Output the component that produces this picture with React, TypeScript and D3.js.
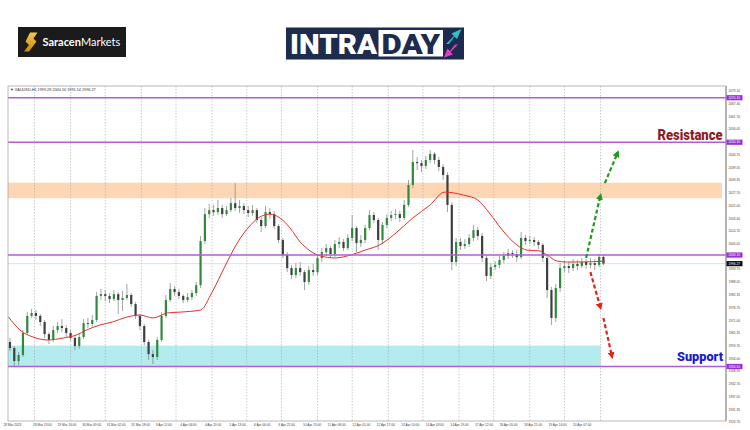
// @ts-nocheck
import React, { useEffect, useRef } from "react";
import * as d3 from "d3";

// XAUUSD H1, drawn as 3-hour candles (open = previous close)
const barsPerCandle = 3;
const firstOpen = 1961.4;

const closes = [
  1958.7, 1952.9, 1955.6, 1965.4, 1973.0, 1974.3, 1973.0, 1970.3, 1964.9, 1962.3,
  1966.7, 1968.5, 1967.6, 1965.4, 1963.2, 1959.6, 1963.6, 1969.8, 1969.4, 1971.2,
  1981.9, 1982.7, 1981.9, 1980.5, 1982.7, 1980.1, 1981.0, 1982.3, 1978.3, 1973.0,
  1968.5, 1961.4, 1956.0, 1954.7, 1962.3, 1973.0, 1980.1, 1985.0, 1983.6, 1981.9,
  1980.1, 1981.4, 1983.2, 1986.7, 2006.3, 2018.3, 2020.1, 2019.2, 2021.0, 2018.3,
  2020.1, 2023.2, 2021.0, 2021.9, 2020.1, 2018.8, 2020.1, 2015.7, 2013.0, 2019.2,
  2018.3, 2013.0, 2006.8, 2000.1, 1994.3, 1991.2, 1994.3, 1992.5, 1988.1, 1993.4,
  1992.5, 1998.8, 2001.4, 2003.2, 2000.5, 2005.0, 2005.9, 2003.2, 2007.7, 2012.1,
  2005.4, 2006.8, 2012.1, 2017.9, 2015.7, 2006.8, 2013.5, 2016.6, 2017.9, 2018.3,
  2016.6, 2022.4, 2031.3, 2041.5, 2041.0, 2039.7, 2042.4, 2045.1, 2042.4, 2039.3,
  2035.7, 2022.4, 1997.0, 2005.9, 2004.1, 2005.0, 2007.7, 2011.2, 2008.6, 1998.8,
  1990.8, 1994.8, 1995.7, 1997.9, 1999.7, 2001.0, 2000.5, 1999.2, 2007.7, 2006.3,
  2006.8, 2005.9, 2004.6, 1998.8, 1984.5, 1972.1, 1985.4, 1994.3, 1995.2, 1994.3,
  1996.1, 1995.2, 1997.0, 1995.7, 1996.5, 1995.7, 1999.28, 1996.27,
];

const highs = [
  1963.2, 1959.6, 1956.9, 1966.7, 1974.7, 1976.1, 1975.6, 1973.8, 1971.2, 1965.8,
  1968.5, 1970.3, 1971.6, 1968.9, 1966.7, 1964.0, 1964.9, 1971.6, 1972.1, 1973.4,
  1983.6, 1985.0, 1984.5, 1983.2, 1984.5, 1983.6, 1984.1, 1987.2, 1983.2, 1979.2,
  1973.8, 1969.4, 1962.3, 1957.8, 1963.6, 1974.7, 1982.3, 1987.6, 1986.3, 1985.0,
  1982.7, 1983.2, 1984.5, 1988.1, 2008.6, 2021.0, 2022.8, 2022.4, 2024.6, 2022.4,
  2021.9, 2025.5, 2032.1, 2024.6, 2023.2, 2021.9, 2022.4, 2021.0, 2017.0, 2021.9,
  2021.0, 2019.7, 2013.9, 2007.7, 2001.4, 1995.7, 1996.5, 1997.0, 1993.4, 1995.2,
  1996.1, 2000.1, 2003.2, 2005.0, 2004.1, 2006.8, 2008.1, 2007.2, 2009.4, 2017.9,
  2013.0, 2009.0, 2013.5, 2020.1, 2019.2, 2016.6, 2014.8, 2018.3, 2019.7, 2020.6,
  2019.7, 2024.6, 2033.5, 2046.8, 2043.7, 2042.4, 2044.2, 2046.8, 2045.9, 2043.7,
  2040.6, 2037.0, 2023.7, 2007.7, 2007.7, 2007.2, 2009.4, 2013.5, 2012.6, 2009.9,
  2000.1, 1996.5, 1997.4, 1999.7, 2001.4, 2002.8, 2002.3, 2002.3, 2010.3, 2009.0,
  2008.6, 2008.1, 2006.8, 2005.4, 2000.1, 1985.9, 1987.2, 1996.5, 1997.4, 1997.0,
  1998.3, 1997.9, 1998.8, 1998.3, 1998.8, 1998.3, 2000.5, 2000.5,
];

const lows = [
  1957.4, 1950.7, 1951.1, 1954.7, 1964.5, 1972.1, 1971.2, 1968.5, 1963.2, 1960.5,
  1961.4, 1965.4, 1965.8, 1963.6, 1961.8, 1957.8, 1958.3, 1962.7, 1967.6, 1968.1,
  1970.3, 1980.1, 1979.6, 1978.7, 1979.6, 1973.8, 1975.2, 1980.1, 1977.0, 1971.6,
  1966.7, 1960.0, 1953.4, 1951.6, 1953.4, 1961.4, 1972.1, 1979.2, 1981.9, 1980.5,
  1978.7, 1979.2, 1980.1, 1981.9, 1985.4, 2005.0, 2016.6, 2017.5, 2017.9, 2016.6,
  2017.5, 2019.2, 2019.7, 2018.8, 2018.3, 2017.0, 2017.5, 2014.3, 2010.3, 2012.1,
  2016.1, 2011.7, 2005.4, 1998.8, 1992.5, 1989.4, 1989.9, 1990.8, 1984.5, 1986.7,
  1990.8, 1991.2, 1997.0, 1999.7, 1998.8, 1999.2, 2003.2, 2001.9, 2002.3, 2006.3,
  2001.4, 2003.7, 2005.4, 2011.2, 2014.3, 2002.3, 2005.0, 2012.1, 2015.2, 2016.1,
  2014.8, 2015.7, 2021.5, 2029.9, 2037.9, 2037.0, 2038.4, 2041.0, 2040.6, 2037.5,
  2033.5, 2019.2, 1993.4, 1995.2, 2002.3, 2002.8, 2003.7, 2006.3, 2006.8, 1997.0,
  1988.5, 1989.4, 1993.4, 1994.3, 1996.5, 1998.3, 1998.8, 1997.0, 1998.3, 2004.6,
  2005.0, 2004.1, 2002.8, 1997.0, 1981.0, 1968.9, 1970.3, 1983.6, 1992.5, 1992.1,
  1993.0, 1993.4, 1994.3, 1993.9, 1994.3, 1993.4, 1994.8, 1995.54,
];

// moving average: [bar, price]
const maPoints = [
  [0, 1972.5], [8, 1966.7], [17, 1963.6], [27, 1962.3], [38, 1963.2], [47, 1964.5],
  [54, 1966.7], [63, 1968.9], [72, 1970.3], [82, 1972.5], [91, 1973.4], [100, 1972.1],
  [110, 1974.3], [119, 1974.7], [133, 1975.6], [141, 1983.6], [150, 1995.2], [158, 2005.0],
  [167, 2013.0], [174, 2017.0], [181, 2018.3], [188, 2016.6], [195, 2012.1], [202, 2005.9],
  [209, 2001.9], [216, 1999.7], [226, 1998.8], [237, 2000.1], [247, 2002.3], [257, 2004.6],
  [269, 2010.3], [280, 2016.6], [292, 2022.4], [302, 2028.1], [315, 2026.8], [325, 2024.6],
  [333, 2018.8], [342, 2011.2], [352, 2004.6], [359, 2002.3], [368, 2001.9], [373, 2000.1],
  [380, 1997.4], [387, 1997.0], [396, 1997.0], [413, 1997.4],
];

const levels = [2070.1, 2050.3, 2000.1, 1950.5];
const levelLabels = ["2070.10", "2050.30", "2000.10", "1950.50"];
const lastPrice = 1996.27;
const resistanceZone = [2025.4, 2032.3];
const supportZone = [1950.6, 1959.8];
const supportZoneEndBar = 410;

const priceTicks = [
  2073.1, 2067.4, 2061.7, 2056.05, 2044.75, 2039.05, 2033.35, 2027.7, 2022.0, 2016.4,
  2010.7, 2005.05, 1993.75, 1988.05, 1982.35, 1976.7, 1971.0, 1965.35, 1959.7, 1954.0,
  1948.35, 1942.7, 1937.05, 1931.35, 1925.7,
];

const timeLabels = [
  "28 Mar 2023", "28 Mar 23:00", "29 Mar 16:00", "30 Mar 09:00", "31 Mar 02:00",
  "31 Mar 18:00", "3 Apr 11:00", "4 Apr 04:00", "4 Apr 20:00", "5 Apr 13:00",
  "6 Apr 06:00", "6 Apr 22:00", "10 Apr 15:00", "11 Apr 08:00", "12 Apr 01:00",
  "12 Apr 17:00", "13 Apr 10:00", "14 Apr 03:00", "14 Apr 19:00", "17 Apr 12:00",
  "18 Apr 05:00", "18 Apr 21:00", "19 Apr 14:00", "20 Apr 07:00",
];
const timeLabelStep = 17;

const gridBars = [18, 43, 67, 92, 116, 141, 165, 189, 214, 238, 263, 287, 312, 336, 361, 385, 410];

// scenario arrows: [bar, price] -> [bar, price]
const arrows = [
  { from: [400, 1998.8], to: [410, 2026.8], color: "#1f9a1f" },
  { from: [413, 2032.1], to: [422, 2045.9], color: "#1f9a1f" },
  { from: [403, 1992.5], to: [410, 1976.5], color: "#e3221c" },
  { from: [412, 1972.1], to: [418, 1954.7], color: "#e3221c" },
];

export default function App() {
  const svgRef = useRef(null);

  useEffect(() => {
    const svg = d3.select(svgRef.current);
    svg.selectAll("*").remove();

    const plot = { left: 8, right: 726, top: 86, bottom: 421 };
    const x = d3.scaleLinear().domain([0, 414]).range([8.5, 8.5 + 414 * 1.444]);
    const y = d3.scaleLinear().domain([1925.7, 2073.1]).range([422.2, 91]);
    const axisFont = "'Liberation Sans', Arial, sans-serif";
    const purple = "#b55bd9";

    svg.append("rect").attr("width", 750).attr("height", 430).attr("fill", "#fff");

    // ---------- logos ----------
    const defs = svg.append("defs");
    const gold = defs.append("linearGradient").attr("id", "gold").attr("x1", 0).attr("y1", 0).attr("x2", 0).attr("y2", 1);
    gold.append("stop").attr("offset", "0%").attr("stop-color", "#f6c64a");
    gold.append("stop").attr("offset", "100%").attr("stop-color", "#c98b12");

    svg.append("rect").attr("x", 18).attr("y", 27).attr("width", 108).attr("height", 30).attr("fill", "#1b1b1b");
    svg.append("path")
      .attr("d", "M30 32.5 L37.5 32.5 L33.5 38.5 L36.5 41.5 L29 51.5 L24 51.5 L29 45 L25.5 41.5 Z")
      .attr("fill", "url(#gold)");
    const sm = svg.append("text").attr("x", 42.5).attr("y", 46.2)
      .attr("font-family", "Lato, 'Open Sans', sans-serif").attr("font-size", 11).attr("fill", "#fff");
    sm.append("tspan").attr("font-weight", 700).text("Saracen");
    sm.append("tspan").attr("font-weight", 400).text("Markets");

    svg.append("rect").attr("x", 286).attr("y", 27.5).attr("width", 178).attr("height", 32).attr("fill", "#1d2b4f");
    svg.append("rect").attr("x", 378.5).attr("y", 30).attr("width", 64.5).attr("height", 26.5).attr("fill", "#fff");
    svg.append("text").attr("x", 290).attr("y", 53.5)
      .attr("font-family", "Roboto, sans-serif").attr("font-weight", 900).attr("font-size", 27.5)
      .attr("textLength", 87).attr("lengthAdjust", "spacingAndGlyphs").attr("fill", "#fff").text("INTRA");
    svg.append("text").attr("x", 381.5).attr("y", 53.5)
      .attr("font-family", "Roboto, sans-serif").attr("font-weight", 900).attr("font-size", 27.5)
      .attr("textLength", 58.5).attr("lengthAdjust", "spacingAndGlyphs").attr("fill", "#1d2b4f").text("DAY");
    svg.append("path")
      .attr("d", "M446 44 L454 36 L451.5 33.5 L461.5 29 L457 39 L454.5 36.5 L449 44 Z")
      .attr("fill", "#2fc0c6");
    svg.append("path")
      .attr("d", "M458 44.5 L450.5 52 L453 54.5 L444 57.5 L447.5 48.5 L450 51 L455 44.5 Z")
      .attr("fill", "#e23fc6");

    // ---------- chart ----------
    defs.append("clipPath").attr("id", "plotClip").append("rect")
      .attr("x", plot.left).attr("y", plot.top)
      .attr("width", plot.right - plot.left).attr("height", plot.bottom - plot.top);

    const g = svg.append("g").attr("clip-path", "url(#plotClip)");

    // zones
    g.append("rect")
      .attr("x", plot.left).attr("y", y(resistanceZone[1]))
      .attr("width", 722 - plot.left).attr("height", y(resistanceZone[0]) - y(resistanceZone[1]))
      .attr("fill", "#fdd7b4");
    g.append("rect")
      .attr("x", plot.left).attr("y", y(supportZone[1]))
      .attr("width", x(supportZoneEndBar) - plot.left).attr("height", y(supportZone[0]) - y(supportZone[1]))
      .attr("fill", "#b3ebee");

    // vertical grid
    g.selectAll(".vgrid").data(gridBars).enter().append("line")
      .attr("x1", d => x(d)).attr("x2", d => x(d))
      .attr("y1", plot.top).attr("y2", plot.bottom)
      .attr("stroke", "#a8a8a8").attr("stroke-width", 0.6).attr("stroke-dasharray", "1.5 1.5");

    // bid line
    g.append("line")
      .attr("x1", plot.left).attr("x2", plot.right)
      .attr("y1", y(lastPrice)).attr("y2", y(lastPrice))
      .attr("stroke", "#cfcfcf").attr("stroke-width", 0.6);

    // candles
    const candles = closes.map((c, i) => ({
      o: i === 0 ? firstOpen : closes[i - 1],
      h: highs[i],
      l: lows[i],
      c,
      bar: i * barsPerCandle + 1,
    }));
    const cg = g.append("g");
    cg.selectAll(".wick").data(candles).enter().append("line")
      .attr("x1", d => x(d.bar)).attr("x2", d => x(d.bar))
      .attr("y1", d => y(d.h)).attr("y2", d => y(d.l))
      .attr("stroke", "#7d7d7d").attr("stroke-width", 0.7);
    cg.selectAll(".body").data(candles).enter().append("rect")
      .attr("x", d => x(d.bar) - 1.1)
      .attr("y", d => y(Math.max(d.o, d.c)))
      .attr("width", 2.2)
      .attr("height", d => Math.max(0.7, Math.abs(y(d.o) - y(d.c))))
      .attr("fill", d => (d.c >= d.o ? "#2f8a3e" : "#3f3f3f"));

    // moving average
    const maLine = d3.line().x(d => x(d[0])).y(d => y(d[1])).curve(d3.curveMonotoneX);
    g.append("path").datum(maPoints)
      .attr("d", maLine).attr("fill", "none")
      .attr("stroke", "#e0322c").attr("stroke-width", 1);

    // level lines
    g.selectAll(".level").data(levels).enter().append("line")
      .attr("x1", plot.left).attr("x2", plot.right)
      .attr("y1", d => y(d)).attr("y2", d => y(d))
      .attr("stroke", purple).attr("stroke-width", 1.4);

    // frame + right axis
    svg.append("rect")
      .attr("x", plot.left).attr("y", plot.top)
      .attr("width", plot.right - plot.left).attr("height", plot.bottom - plot.top)
      .attr("fill", "none").attr("stroke", "#9a9a9a").attr("stroke-width", 0.7);
    svg.append("line")
      .attr("x1", plot.right).attr("x2", plot.right).attr("y1", plot.top).attr("y2", plot.bottom)
      .attr("stroke", "#8a8a8a").attr("stroke-width", 1);

    svg.selectAll(".ptick").data(priceTicks).enter().append("text")
      .attr("x", 728.5).attr("y", d => y(d) + 1.1)
      .attr("font-family", axisFont).attr("font-size", 3.2).attr("fill", "#444")
      .text(d => d.toFixed(2));

    levels.forEach((lv, i) => {
      svg.append("rect").attr("x", 726.5).attr("y", y(lv) - 2.6).attr("width", 16).attr("height", 5.2).attr("fill", "#9b2fd6");
      svg.append("text").attr("x", 728.5).attr("y", y(lv) + 1.1)
        .attr("font-family", axisFont).attr("font-size", 3.2).attr("fill", "#fff").text(levelLabels[i]);
    });
    svg.append("rect").attr("x", 726.5).attr("y", y(lastPrice) - 2.6).attr("width", 16).attr("height", 5.2).attr("fill", "#111");
    svg.append("text").attr("x", 728.5).attr("y", y(lastPrice) + 1.1)
      .attr("font-family", axisFont).attr("font-size", 3.2).attr("fill", "#fff").text(lastPrice.toFixed(2));

    // time axis labels
    svg.selectAll(".tlabel").data(timeLabels).enter().append("text")
      .attr("x", (d, i) => (i === 0 ? 3.5 : x(i * timeLabelStep)))
      .attr("y", 426)
      .attr("font-family", axisFont).attr("font-size", 3.2).attr("fill", "#444")
      .text(d => d);

    // header
    svg.append("text").attr("x", 10).attr("y", 90.8)
      .attr("font-family", axisFont).attr("font-size", 3.8).attr("fill", "#333")
      .text("\u25BC XAUUSD,H1  1999.28 2000.50 1995.54 1996.27");

    // arrows
    ["#1f9a1f", "#e3221c"].forEach((col, i) => {
      defs.append("marker").attr("id", `head${i}`)
        .attr("viewBox", "0 0 10 10").attr("refX", 7).attr("refY", 5)
        .attr("markerWidth", 7).attr("markerHeight", 7).attr("markerUnits", "userSpaceOnUse")
        .attr("orient", "auto")
        .append("path").attr("d", "M0,0 L10,5 L0,10 Z").attr("fill", col);
    });
    svg.selectAll(".arrow").data(arrows).enter().append("line")
      .attr("x1", d => x(d.from[0])).attr("y1", d => y(d.from[1]))
      .attr("x2", d => x(d.to[0])).attr("y2", d => y(d.to[1]))
      .attr("stroke", d => d.color).attr("stroke-width", 2.2)
      .attr("stroke-dasharray", "4 2.5")
      .attr("marker-end", d => (d.color === "#1f9a1f" ? "url(#head0)" : "url(#head1)"));

    // annotations
    svg.append("text").attr("x", 722.5).attr("y", 140).attr("text-anchor", "end")
      .attr("font-family", "Roboto, sans-serif").attr("font-weight", 900).attr("font-size", 14.5)
      .attr("textLength", 65).attr("lengthAdjust", "spacingAndGlyphs")
      .attr("fill", "#8b1c24").text("Resistance");
    svg.append("text").attr("x", 723).attr("y", 361).attr("text-anchor", "end")
      .attr("font-family", "Roboto, sans-serif").attr("font-weight", 900).attr("font-size", 13)
      .attr("textLength", 46).attr("lengthAdjust", "spacingAndGlyphs")
      .attr("fill", "#1c1cd2").text("Support");
  }, []);

  return (
    <svg
      ref={svgRef}
      width={750}
      height={430}
      style={{ position: "absolute", left: 0, top: 0, display: "block" }}
    />
  );
}
